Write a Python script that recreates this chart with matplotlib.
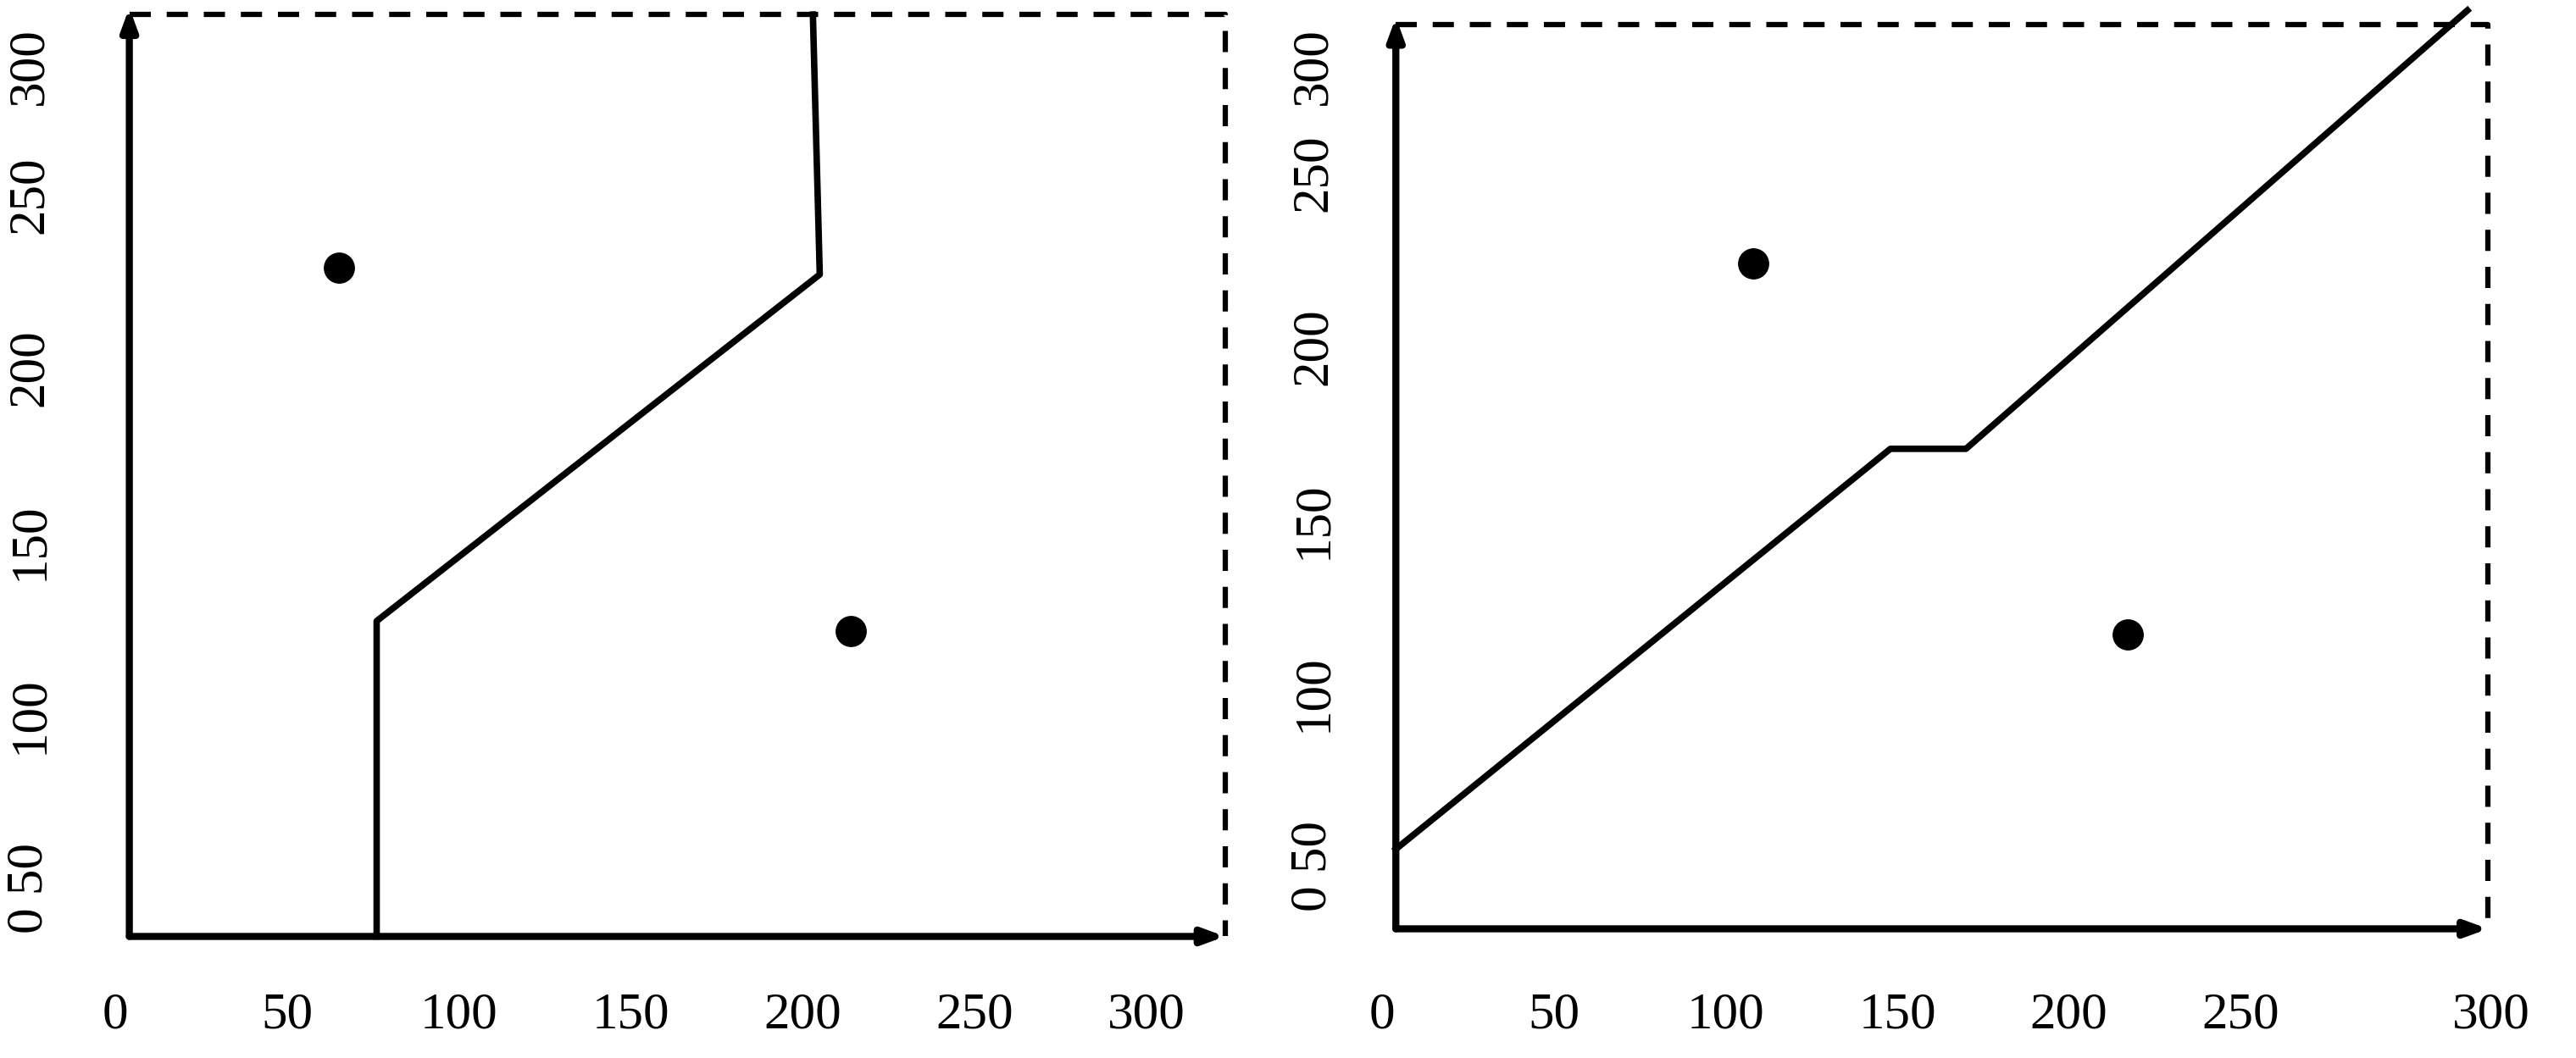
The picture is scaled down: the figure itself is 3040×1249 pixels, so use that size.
import matplotlib.pyplot as plt

plt.rcParams['font.family'] = ['Liberation Serif', 'DejaVu Serif']

# panel data
tick_vals = [0, 50, 100, 150, 200, 250, 300]
left_line_x = [76, 76, 205, 203]
left_line_y = [36, 127, 227, 302]
left_dots_x = [65, 214]
left_dots_y = [229, 124]
right_line_x = [4, 148, 170, 316]
right_line_y = [55, 170.5, 170.5, 297]
right_dots_x = [108, 217]
right_dots_y = [224, 117]

# layout measured on a half-size view of the reference
W, H = 1560, 641
fig = plt.figure(figsize=(30.4, 12.49), dpi=100)


def px_axes(x0, x1, y0, y1):
    # pixel box (top-left origin) -> figure fraction
    return fig.add_axes([x0 / W, 1 - y1 / H, (x1 - x0) / W, (y1 - y0) / H])


def panel(ax, xlim, ylim, ax0, ay0, xend, yend, box_top, box_right,
          lx, ly, dx, dy, xlab_y, ylab_x, x300, y300):
    ax.set_xlim(*xlim)
    ax.set_ylim(*ylim)
    ax.axis('off')
    arrow = dict(arrowstyle='-|>,head_length=1.5,head_width=0.55', lw=6,
                 color='black', shrinkA=0, shrinkB=0)
    ax.annotate('', xy=(xend, ay0), xytext=(ax0, ay0), arrowprops=arrow)
    ax.annotate('', xy=(ax0, yend), xytext=(ax0, ay0), arrowprops=arrow)
    ax.plot([ax0, box_right, box_right], [box_top, box_top, ay0],
            ls=(0, (4, 3)), lw=4.5, color='black')
    ax.plot(lx, ly, color='black', lw=5.5)
    ax.scatter(dx, dy, s=650, color='black', marker='o', zorder=3)
    for v in tick_vals:
        xv = x300 if v == 300 else v
        ax.text(xv, xlab_y, str(v), ha='center', va='center', fontsize=44)
    for v in tick_vals[2:]:
        yv = y300 if v == 300 else v
        ax.text(ylab_x, yv, str(v), ha='center', va='center', fontsize=44,
                rotation=90)
    ax.text(ylab_x, 50, '0 50', ha='center', va='center', fontsize=44,
            rotation=90)


ax1 = px_axes(0, 760, 0, 640)
panel(ax1, (-33.65, 331.7), (1.4, 306.2), 4, 36, 323, 304, 302, 323,
      left_line_x, left_line_y, left_dots_x, left_dots_y, 13.3, -25, 300, 287)

ax2 = px_axes(780, 1540, 0, 640)
panel(ax2, (-27.4, 338), (-4.8, 300), 4, 32, 322, 295, 293, 322,
      right_line_x, right_line_y, right_dots_x, right_dots_y, 7.1, -20, 323, 281)

fig.savefig('out.png', dpi=100)
